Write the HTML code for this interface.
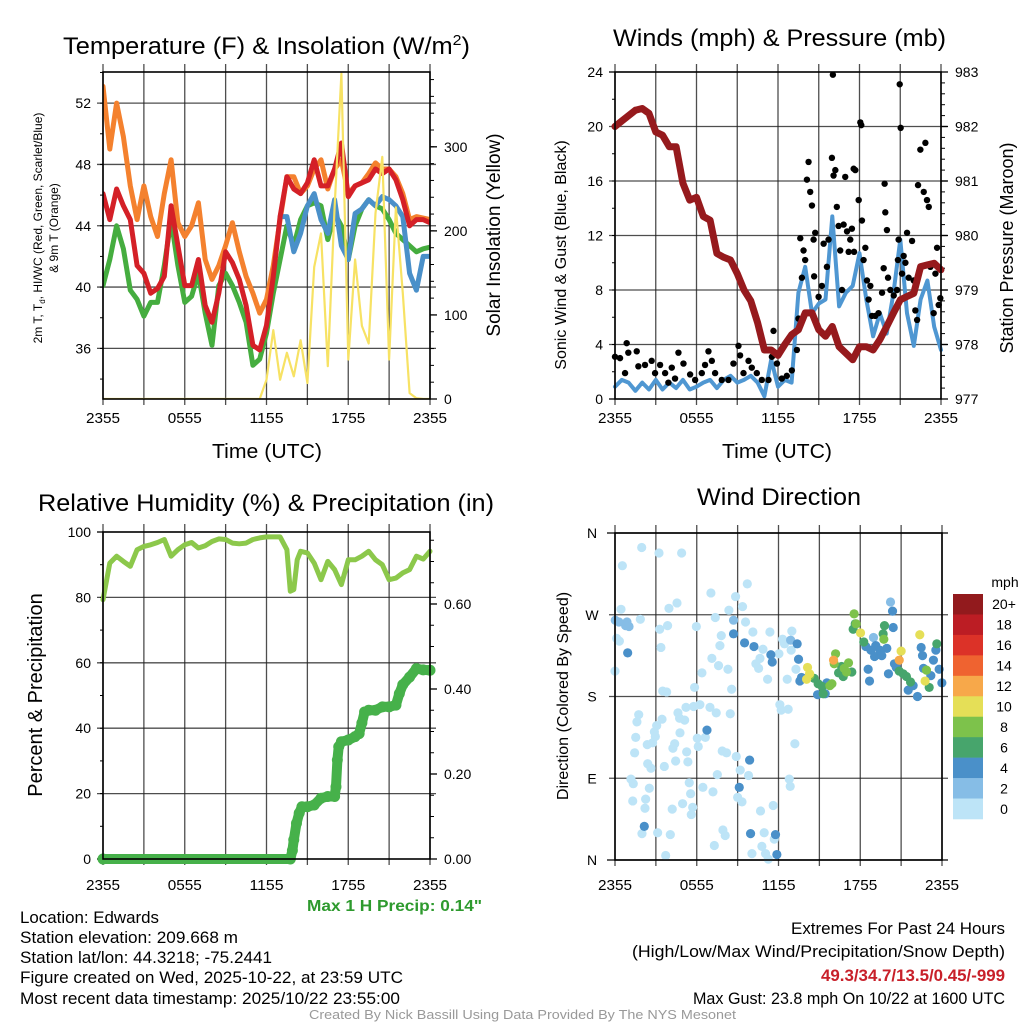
<!DOCTYPE html>
<html><head><meta charset="utf-8"><style>
html,body{margin:0;padding:0;background:#fff;}
svg{display:block;font-family:"Liberation Sans",sans-serif;}
</style></head><body>
<svg id="fig" width="1024" height="1024" viewBox="0 0 1024 1024" xmlns="http://www.w3.org/2000/svg">
<rect width="1024" height="1024" fill="#fff"/>
<g id="p1"></g>
<g id="p2"></g>
<g id="p3"></g>
<g id="p4"></g>
<text x="63" y="54" font-size="24" textLength="407" lengthAdjust="spacingAndGlyphs">Temperature (F) &amp; Insolation (W/m<tspan dy="-9" font-size="15">2</tspan><tspan dy="9">)</tspan></text>
<text x="613" y="46" font-size="24" textLength="333" lengthAdjust="spacingAndGlyphs">Winds (mph) &amp; Pressure (mb)</text>
<text x="38" y="511" font-size="24" textLength="456" lengthAdjust="spacingAndGlyphs">Relative Humidity (%) &amp; Precipitation (in)</text>
<text x="697" y="505" font-size="24" textLength="164" lengthAdjust="spacingAndGlyphs">Wind Direction</text>
<text x="212" y="458" font-size="20" textLength="110" lengthAdjust="spacingAndGlyphs">Time (UTC)</text>
<text x="722" y="458" font-size="20" textLength="110" lengthAdjust="spacingAndGlyphs">Time (UTC)</text>
<g font-size="12" text-anchor="middle">
<text transform="translate(42,228) rotate(-90)">2m T, T<tspan font-size="8" dy="3">d</tspan><tspan dy="-3">, HI/WC (Red, Green, Scarlet/Blue)</tspan></text>
<text transform="translate(58,228) rotate(-90)">&amp; 9m T (Orange)</text>
</g>
<text transform="translate(500,235) rotate(-90)" font-size="19" text-anchor="middle">Solar Insolation (Yellow)</text>
<text transform="translate(566,255) rotate(-90)" font-size="16" text-anchor="middle">Sonic Wind &amp; Gust (Blue, Black)</text>
<text transform="translate(1013,248) rotate(-90)" font-size="18" text-anchor="middle">Station Pressure (Maroon)</text>
<text transform="translate(42,695) rotate(-90)" font-size="20" text-anchor="middle">Percent &amp; Precipitation</text>
<text transform="translate(568,696) rotate(-90)" font-size="16" text-anchor="middle">Direction (Colored By Speed)</text>
<text x="307" y="911" font-size="16" font-weight="bold" fill="#2e9a2e" textLength="175" lengthAdjust="spacingAndGlyphs">Max 1 H Precip: 0.14"</text>
<g font-size="17">
<text x="20" y="923" textLength="139" lengthAdjust="spacingAndGlyphs">Location: Edwards</text>
<text x="20" y="943" textLength="218" lengthAdjust="spacingAndGlyphs">Station elevation: 209.668 m</text>
<text x="20" y="963" textLength="252" lengthAdjust="spacingAndGlyphs">Station lat/lon: 44.3218; -75.2441</text>
<text x="20" y="983" textLength="383" lengthAdjust="spacingAndGlyphs">Figure created on Wed, 2025-10-22, at 23:59 UTC</text>
<text x="20" y="1004" textLength="380" lengthAdjust="spacingAndGlyphs">Most recent data timestamp: 2025/10/22 23:55:00</text>
</g>
<g font-size="17">
<text x="791" y="934" textLength="214" lengthAdjust="spacingAndGlyphs">Extremes For Past 24 Hours</text>
<text x="632" y="957" textLength="373" lengthAdjust="spacingAndGlyphs">(High/Low/Max Wind/Precipitation/Snow Depth)</text>
<text x="821" y="981" textLength="184" lengthAdjust="spacingAndGlyphs" fill="#c8202a" font-weight="bold">49.3/34.7/13.5/0.45/-999</text>
<text x="693" y="1004" textLength="312" lengthAdjust="spacingAndGlyphs">Max Gust: 23.8 mph On 10/22 at 1600 UTC</text>
</g>
<text x="309" y="1019" font-size="13" fill="#999" textLength="427" lengthAdjust="spacingAndGlyphs">Created By Nick Bassill Using Data Provided By The NYS Mesonet</text>
</svg>
<script>
// ---------- data ----------
const t49 = [0,0.5,1,1.5,2,2.5,3,3.5,4,4.5,5,5.5,6,6.5,7,7.5,8,8.5,9,9.5,10,10.5,11,11.5,12,12.5,13,13.5,14,14.5,15,15.5,16,16.5,17,17.5,18,18.5,19,19.5,20,20.5,21,21.5,22,22.5,23,23.5,24];
const xTickLabels = ["2355","0555","1155","1755","2355"];
const temp9m = [53.1,49,52,49.8,46.6,44.4,46.6,44.6,43.3,46.1,48.3,44.2,43.3,44,45.5,41.8,40.5,41.4,42.7,44.2,42.3,40.7,39.6,38.3,39.2,41.4,44.4,47.2,47.2,46.1,46.6,47.7,48.3,46.4,47.7,48.3,46.1,46.6,46.8,47.4,48.1,47.7,47.7,47.2,46.1,44.4,44.6,44.5,44.4];
const temp2m = [46.1,44.4,46.4,45.3,44.4,41.4,40.9,39.6,39.9,40.7,45.3,42.7,40.1,40.1,41.8,38.8,37.7,39.6,42.3,41.6,40.5,38.8,36.2,35.9,37.5,40.7,44.6,47.2,46.4,46.1,46.8,48.3,46.6,46.6,47.7,49.4,45.9,46.6,46.8,47,47.7,47.4,47.7,47,45.7,44,44.4,44.4,44.2];
const dewpt = [40.1,41.8,44,42.5,39.8,39.2,38.1,39,39,41.4,44.4,41.4,39,39.4,40.9,38.3,36.2,40.1,40.9,40.1,39,37.7,34.9,35.3,37,39.6,41.8,44,42.7,44.4,45.3,45.5,45.3,43.1,44.8,44,41.8,44,45.1,45.7,45.3,45.1,44.4,43.5,43.1,42.7,42.3,42.5,42.6];
const tWc = [13,13.5,14,14.5,15,15.5,16,16.5,17,17.5,18,18.5,19,19.5,20,20.5,21,21.5,22,22.5,23,23.5,24];
const windChill = [44.6,44.6,42.3,43.5,45.3,46.1,44.4,43.5,45.7,42.7,41.8,44.8,45.1,45.7,45.3,45.9,45.7,45.3,44.6,40.9,39.8,42,42];
const solar = [0,0,0,0,0,0,0,0,0,0,0,0,0,0,0,0,0,0,0,0,0,0,0,0,23,82,23,55,27,70,19,157,197,39,228,387,47,166,87,66,221,288,47,228,126,7,1,0,0];
const pressure = [982,982.1,982.2,982.3,982.33,982.24,981.9,981.84,981.63,981.63,980.96,980.65,980.7,980.35,980.28,979.67,979.6,979.55,979.3,979,978.8,978.4,977.9,977.9,977.8,978,978.18,978.27,978.58,978.58,978.27,978.15,978.33,977.96,977.84,977.72,977.96,977.96,977.9,978.09,978.33,978.58,978.82,978.88,978.94,979.43,979.46,979.49,979.37];
const windSpd = [0.9,1.4,1.2,0.6,1.2,0.7,1.4,0.7,1.2,0.8,1.4,0.7,0.9,1.2,1.4,0.8,1.4,1.7,1.2,1.4,1.7,1.2,0.2,2.9,0.9,1.4,1.2,7.8,9.7,6.3,7,7.3,13.4,6.8,7.8,8.3,10.7,7.3,4.6,6.3,4.8,7.8,11.7,6.3,3.9,7.3,8.7,5.3,3.6];
const gustT = [0,0.37,0.74,0.86,0.98,1.6,1.72,2.21,2.7,2.95,3.32,3.69,3.93,4.18,4.42,4.67,5.04,5.53,5.9,6.39,6.63,6.88,7.13,7.37,7.86,8.35,8.72,9.09,9.21,9.46,9.83,10.07,10.44,10.81,11.3,11.55,11.67,11.92,12.28,12.65,13.02,13.39,13.51,13.64,13.76,13.88,14.0,14.13,14.25,14.37,14.5,14.62,14.74,14.66,14.99,15.23,15.36,15.6,15.72,15.97,16.04,16.09,16.22,16.33,16.46,16.58,16.71,16.83,16.95,17.08,17.2,17.32,17.44,17.57,17.69,17.6,17.94,18.06,18.13,18.18,18.3,18.43,18.55,18.67,18.8,18.92,19.16,19.4,19.66,19.78,19.85,19.9,20.02,20.1,20.27,20.52,20.76,20.83,20.88,20.96,21.03,21.13,21.25,21.38,21.5,21.62,21.87,21.99,22.11,22.24,22.31,22.48,22.73,22.85,22.97,23.1,23.22,23.46,23.59,23.71,23.83,23.95];
const gustV = [3.1,3.0,1.9,4.1,3.4,3.5,2.4,2.5,2.8,1.9,2.5,1.9,1.2,2.3,1.5,3.4,2.6,1.8,1.4,1.9,2.5,3.5,2.8,1.9,1.4,1.4,2.6,3.9,3.2,1.9,2.8,2.3,1.9,1.4,1.4,3.1,5.0,2.6,1.5,1.7,2.1,3.6,5.9,11.8,8.9,10.9,10.2,16.1,17.4,15.2,14.2,11.7,12.2,9.0,7.5,8.3,11.4,9.7,11.7,17.7,23.8,16.4,16.8,14.1,12.7,10.9,8.0,12.8,16.3,12.3,10.8,11.7,12.5,16.9,16.8,10.8,14.6,20.3,20.1,13.1,10.2,11.1,8.7,7.3,8.3,6.1,6.1,6.3,7.8,9.6,15.8,13.7,12.4,8.9,8.0,7.6,8.0,10.2,11.7,23.1,19.9,9.2,10.5,10.0,12.2,8.9,11.6,8.7,6.5,5.8,15.7,18.3,15.2,18.8,14.6,14.1,9.7,6.3,9.2,11.1,6.9,7.4];
const rhT = [0,0.5,1,1.5,2,2.5,3,3.5,4,4.5,5,5.5,6,6.5,7,7.5,8,8.5,9,9.5,10,10.5,11,11.5,12,12.5,13,13.5,13.75,14,14.25,14.5,15,15.5,16,16.5,17,17.5,18,18.5,19,19.5,20,20.5,21,21.5,22,22.5,23,23.5,24];
const rhV = [79.3,90.5,92.6,91,89.5,94.6,95.6,96.1,96.8,97.7,92.6,94.6,96.1,96.8,95.1,95.8,97.1,97.9,97.7,96.6,96.4,96.6,97.7,98.2,98.5,98.5,98.5,94.6,81.9,82.4,91.5,94.1,93.6,90.5,85.4,91,88.5,83.9,91.5,91.5,92.6,94.1,91.5,90,85.4,85.9,87.5,88.5,92.6,91.7,94.1];
const precipT = [0,13.75,13.9,14.0,14.2,14.4,14.6,15.0,15.5,16,16.5,17.0,17.1,17.2,17.3,17.5,18,18.5,18.8,19.0,19.2,19.5,20,20.5,21,21.5,21.75,22,22.5,23,23.5,24];
const precipV = [0,0,0.02,0.045,0.084,0.108,0.123,0.123,0.127,0.143,0.147,0.147,0.17,0.233,0.264,0.276,0.28,0.288,0.295,0.32,0.346,0.35,0.35,0.358,0.358,0.362,0.389,0.41,0.428,0.448,0.445,0.444];
const dirH1 = [1.96,3.23,4.89,0.54,0.44,3.96,4.55,3.28,3.86,3.37,5.97,7.04,9.71,8.85,9.36,8.36,7.36,7.8,7.7,7.11,7.6,8.29,6.38,5.84,3.5,3.79,8.56,9.58,10.12,10.86,11.37,12.98,12.3,12.44,12.93,12.03,10.64,10.34,10.54,11.2,12.64,13.28,0,0.12,0.32,1.86,12.1,12.2,12.71,13.2,8.46,7.43,6.97,6.23,5.77,5.21,4.62,4.74,5.11,3.45,3.06,1.74,1.61,1.52,2.89,2.96,2.76,2.37,1.44,4.25,4.38,4.77,5.26,4.45,5.35,3.62,2.4,2.64,6.04,6.11,6.63,7.87,8.19,8.9,9.19,9.8,7.51,1.17,1.34,2.52,5.45,5.55,6.45,7.19,1.3,2.25,2.2,4.96,5.7,5.6,4.2,9.0,9.32,10.68,11.61,12.79,12.86,1.98,3.13,4.06,3.72,7.29,7.92,8.09,10.95,11.69,10.78,10.05,11.05,11.25];
const dirD1 = [344,338,338,324,276,277,283,254,258,234,257,294,304,290,279,275,267,247,236,222,214,210,206,190,186,185,188,262,251,232,251,252,243,238,231,227,222,216,211,199,199,210,208,244,241,265,171,165,166,128,161,162,168,171,169,168,162,156,154,155,148,160,152,135,141,136,129,127,118,123,128,140,119,109,108,103,106,101,134,125,135,120,118,114,99,93,94,89,84,79,85,73,80,75,65,67,57,62,58,50,56,69,64,54,60,89,81,29,30,28,5,16,33,27,30,23,15,7,7,1];
const dirH3 = [0.88,0.78,0.29,0.02,1.03,8.7,12.89,18.97,20.22];
const dirD3 = [262,258,262,264,257,264,242,245,284];
const dirH5 = [0.93,8.7,9.51,10.2,11.44,11.54,6.75,9.88,9.12,2.15,9.95,11.78,11.88,13.37,13.47,13.57,13.69,14.87,15.55,15.43,18.58,18.68,18.41,19.05,19.14,19.58,19.95,20.07,20.37,20.42,20.51,20.64,21.52,21.88,22.2,22.47,22.57,22.64,23.18,23.37,23.55,23.79,23.99,19.44,18.78];
const dirD5 = [228,249,239,235,226,218,143,110,80,37,29,28,6,238,221,197,201,182,195,183,210,197,235,224,236,225,233,205,274,256,216,212,187,192,180,234,225,211,203,220,231,210,195,231,231];
const dirH7 = [14.62,14.91,15.21,15.28,16.41,16.75,17.38,17.48,17.63,18.26,19.78,19.68,20.86,21.15,21.39,21.69,23.06,23.62,16.63];
const dirD7 = [200,194,191,183,206,202,207,254,260,240,258,249,208,205,202,196,190,238,213];
const dirH9 = [17.55,17.7,16.19,16.09,15.77,15.92,16.99,17.14,16.82,19.73,22.86,14.3];
const dirD9 = [271,260,227,216,192,194,207,217,211,243,209,203];
const dirH11 = [14.13,14.06,14.28,18.02,22.37,22.76,21.0];
const dirD11 = [212,199,205,250,248,197,230];
const dirH13 = [16.04,20.86];
const dirD13 = [220,220];
const speedBinLabels = ["20+","18","16","14","12","10","8","6","4","2","0"];
const speedBinColors = ["#921a1d","#bc1d24","#dc3228","#ef6330","#f7a84a","#e5df57","#7dc24b","#47a56c","#4a90c9","#86bde6","#bde4f7"];

// ---------- helpers ----------
const NS = "http://www.w3.org/2000/svg";
function mk(tag, attrs, parent){ const e=document.createElementNS(NS,tag); for(const k in attrs) e.setAttribute(k,attrs[k]); parent.appendChild(e); return e; }
function scale(d0,d1,r0,r1){ return v => r0 + (v-d0)/(d1-d0)*(r1-r0); }
function pathFrom(xs, ys, fx, fy){ return xs.map((x,i)=>(i?"L":"M")+fx(x).toFixed(1)+","+fy(ys[i]).toFixed(1)).join(""); }

function frame(g, P, leftTicks, leftMinor, leftFmt, rightTicks, rightMinor, rightFmt, fxTick, fyL, fyR, xLabY){
  for(let h=0; h<=24; h+=3){
    const x=fxTick(h);
    const l=mk("line",{x1:x,x2:x,y1:P.y0-8,y2:P.y1+6,stroke:"#222","stroke-width":1.3,"stroke-opacity":0.8},g);
    
    
  }
  for(let i=0;i<xTickLabels.length;i++){
    const t=mk("text",{x:fxTick(i*6),y:xLabY,"font-size":15,"text-anchor":"middle",textLength:34,lengthAdjust:"spacingAndGlyphs"},g);
    t.textContent=xTickLabels[i];
    
    
  }
  leftTicks.forEach(v=>{
    const y=fyL(v);
    if(y>P.y0+1 && y<P.y1-1){
      const l=mk("line",{x1:P.x0-6,x2:P.x1+6,y1:y,y2:y,stroke:"#222","stroke-width":1.3,"stroke-opacity":0.8},g);
      
      
    } else {
      mk("line",{x1:P.x0-6,x2:P.x0,y1:y,y2:y,stroke:"#000","stroke-width":1.3},g);
    }
    const t=mk("text",{x:P.x0-12,y:y+5,"font-size":14,"text-anchor":"end"},g);
    t.textContent=leftFmt(v);
    
    
  });
  leftMinor.forEach(v=>{ const y=fyL(v); mk("line",{x1:P.x0-3,x2:P.x0,y1:y,y2:y,stroke:"#000","stroke-width":1},g); });
  if(rightTicks){
    rightTicks.forEach(v=>{
      const y=fyR(v);
      mk("line",{x1:P.x1,x2:P.x1+7,y1:y,y2:y,stroke:"#000","stroke-width":1.3},g);
      const t=mk("text",{x:P.x1+14,y:y+5,"font-size":14},g);
      t.textContent=rightFmt(v);
      
      
    });
    rightMinor.forEach(v=>{ const y=fyR(v); if(y>=P.y0-1) mk("line",{x1:P.x1,x2:P.x1+4,y1:y,y2:y,stroke:"#000","stroke-width":1},g); });
  }
}
function border(g,P){
  const r=mk("rect",{x:P.x0,y:P.y0,width:P.x1-P.x0,height:P.y1-P.y0,fill:"none",stroke:"#000","stroke-width":1.6},g);
  
  
}
function range(a,b,s){ const o=[]; for(let v=a; v<=b+1e-9; v+=s) o.push(+v.toFixed(3)); return o; }

// ---------- panel 1 ----------
(function(){
  const g=document.getElementById("p1");
  const P={x0:103,x1:430,y0:72,y1:399};
  const fx=scale(0,24,P.x0,P.x1), fy=scale(32.7,54.03,P.y1,P.y0), fyR=scale(0,389,P.y1,P.y0);
  frame(g,P,[36,40,44,48,52],range(34,54,2),v=>v,[0,100,200,300],range(0,380,20),v=>v,fx,fy,fyR,423);
  const cp=mk("clipPath",{id:"c1"},g); mk("rect",{x:P.x0,y:P.y0-6,width:P.x1-P.x0,height:P.y1-P.y0+6},cp);
  const d=mk("g",{"clip-path":"url(#c1)",fill:"none","stroke-linejoin":"round","stroke-linecap":"round"},g);
  const o=mk("path",{d:pathFrom(t49,temp9m,fx,fy),stroke:"#f4812e","stroke-width":5},d);
  
  
  const gr=mk("path",{d:pathFrom(t49,dewpt,fx,fy),stroke:"#45ad3f","stroke-width":5},d);
  
  
  const b=mk("path",{d:pathFrom(tWc,windChill,fx,fy),stroke:"#4a90c9","stroke-width":5},d);
  
  
  const r=mk("path",{d:pathFrom(t49,temp2m,fx,fy),stroke:"#d42027","stroke-width":5},d);
  
  
  const y=mk("path",{d:pathFrom(t49,solar,fx,fyR),stroke:"#f7e264","stroke-width":2.2},d);
  
  
  border(g,P);
})();

// ---------- panel 2 ----------
(function(){
  const g=document.getElementById("p2");
  const P={x0:615,x1:941,y0:72,y1:399};
  const fx=scale(0,24,P.x0,P.x1), fy=scale(0,24,P.y1,P.y0), fyR=scale(977,983,P.y1,P.y0);
  frame(g,P,[0,4,8,12,16,20,24],range(0,24,2),v=>v,[977,978,979,980,981,982,983],range(977,983,0.2),v=>v,fx,fy,fyR,423);
  const d=mk("g",{fill:"none","stroke-linejoin":"round","stroke-linecap":"round"},g);
  const w=mk("path",{d:pathFrom(t49,windSpd,fx,fy),stroke:"#4f97d2","stroke-width":4},d);
  
  
  gustT.forEach((t,i)=>{
    const c=mk("circle",{cx:fx(t),cy:fy(gustV[i]),r:3.2,fill:"#000"},d);
    
    
  });
  const p=mk("path",{d:pathFrom(t49,pressure,fx,fyR),stroke:"#961a1d","stroke-width":7},d);
  
  
  border(g,P);
})();

// ---------- panel 3 ----------
(function(){
  const g=document.getElementById("p3");
  const P={x0:103,x1:430,y0:532,y1:859};
  const fx=scale(0,24,P.x0,P.x1), fy=scale(0,100,P.y1,P.y0), fyR=scale(0,0.7694,P.y1,P.y0);
  frame(g,P,[0,20,40,60,80,100],range(0,100,10),v=>v,[0,0.2,0.4,0.6],range(0,0.75,0.05),v=>v.toFixed(2),fx,fy,fyR,890);
  const d=mk("g",{fill:"none","stroke-linejoin":"round","stroke-linecap":"round"},g);
  const rh=mk("path",{d:pathFrom(rhT,rhV,fx,fy),stroke:"#8cc84b","stroke-width":5},d);
  
  
  const pl=mk("path",{d:pathFrom(precipT,precipV,fx,fyR),stroke:"#46b14a","stroke-width":10},d);
  
  
  precipT.forEach((t,i)=>{
    const c=mk("circle",{cx:fx(t),cy:fyR(precipV[i]),r:5.5,fill:"#46b14a"},d);
    
    
  });
  border(g,P);
})();

// ---------- panel 4 ----------
(function(){
  const g=document.getElementById("p4");
  const P={x0:615,x1:942,y0:533,y1:860};
  const fx=scale(0,24,P.x0,P.x1), fy=scale(0,360,P.y1,P.y0);
  frame(g,P,[],[],v=>v,null,null,null,fx,fy,null,890);
  const dirTicks=[360,270,180,90,0], dirLabels=["N","W","S","E","N"];
  dirTicks.forEach((v,i)=>{
    const y=fy(v);
    if(i>0 && i<4){
      const l=mk("line",{x1:P.x0-6,x2:P.x1+6,y1:y,y2:y,stroke:"#222","stroke-width":1.3,"stroke-opacity":0.8},g);
      
      
    } else mk("line",{x1:P.x0-8,x2:P.x1+6,y1:y,y2:y,stroke:"#000","stroke-width":1.3},g);
    const t=mk("text",{x:592,y:y+5,"font-size":14,"text-anchor":"middle"},g);
    t.textContent=dirLabels[i];
    
    
  });
  const color=s=>speedBinColors[10-Math.min(10,Math.floor(s/2))];
  const groups=[[dirH1,dirD1,1],[dirH3,dirD3,3],[dirH5,dirD5,5],[dirH7,dirD7,7],[dirH9,dirD9,9],[dirH11,dirD11,11],[dirH13,dirD13,13]];
  groups.forEach(([H,D,s])=>{
    H.forEach((h,i)=>{
      const c=mk("circle",{cx:fx(h),cy:fy(D[i]),r:4.6,fill:color(s)},g);
      
      
    });
  });
  const cb=mk("g",{},g);
  
  
  const bh=225/speedBinLabels.length;
  speedBinLabels.forEach((lab,i)=>{
    const r=mk("rect",{x:953,y:594+i*bh,width:30,height:bh+0.3,fill:speedBinColors[i]},cb);
    
    
    const t=mk("text",{x:1004,y:594+i*bh+bh/2+5,"font-size":14,"text-anchor":"middle"},cb);
    t.textContent=lab;
    
    
  });
  const u=mk("text",{x:1005,y:587,"font-size":14,"text-anchor":"middle"},cb);
  u.textContent="mph";
  
  
  border(g,P);
})();
</script>
</body></html>
